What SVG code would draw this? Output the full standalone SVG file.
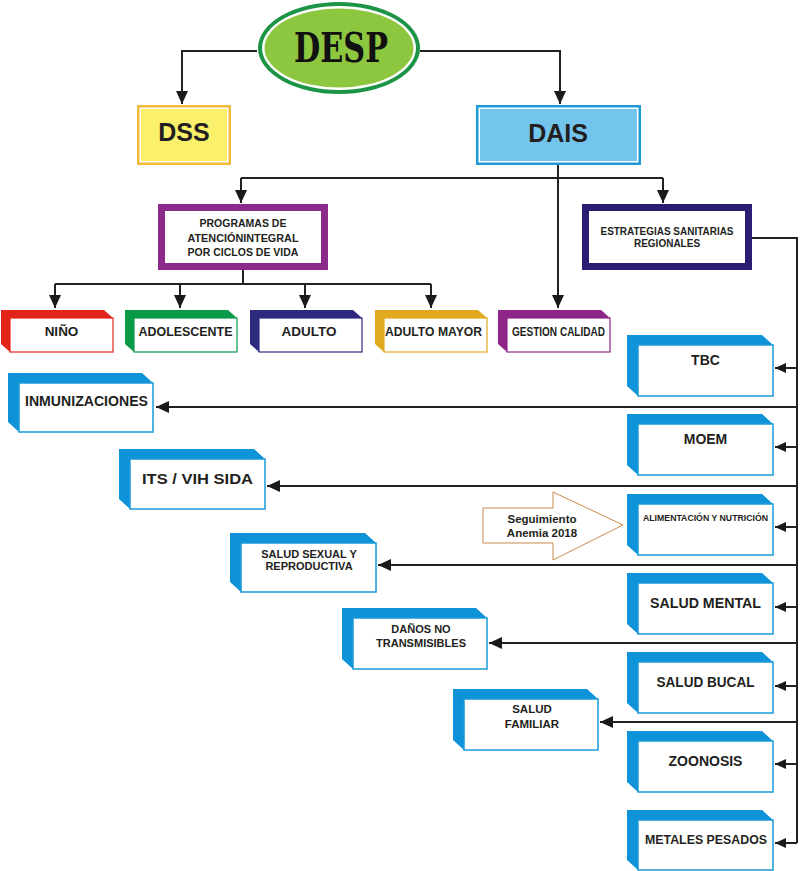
<svg xmlns="http://www.w3.org/2000/svg" width="800" height="871" viewBox="0 0 800 871">
<defs>
<marker id="ah" markerUnits="userSpaceOnUse" markerWidth="13" markerHeight="12" refX="13" refY="6" orient="auto">
<path d="M0,0 L13,6 L0,12 z" fill="#1a1a1a"/>
</marker>
<marker id="as" markerUnits="userSpaceOnUse" markerWidth="11" markerHeight="10" refX="11" refY="5" orient="auto">
<path d="M0,0 L11,5 L0,10 z" fill="#1a1a1a"/>
</marker>
</defs>
<style>
text{font-family:"Liberation Sans",Arial,sans-serif;font-weight:bold;fill:#231f20;text-anchor:middle}
.c{fill:none;stroke:#222;stroke-width:2}
.blue{fill:#0f93d8}
.bf{fill:#fff;stroke:#1a9ad9;stroke-width:1.5}
</style>
<rect width="800" height="871" fill="#fff"/>

<g id="connectors">
<path class="c" d="M257,51 H182 V104" marker-end="url(#ah)"/>
<path class="c" d="M420,51 H560 V104" marker-end="url(#ah)"/>
<path class="c" d="M558,165 V178 M241,178 H663"/>
<path class="c" d="M241,178 V203" marker-end="url(#ah)"/>
<path class="c" d="M663,178 V203" marker-end="url(#ah)"/>
<path class="c" d="M558,178 V308" marker-end="url(#ah)"/>
<path class="c" d="M243,270 V284 M55,284 H431"/>
<path class="c" d="M55,284 V308" marker-end="url(#ah)"/>
<path class="c" d="M180,284 V308" marker-end="url(#ah)"/>
<path class="c" d="M305,284 V308" marker-end="url(#ah)"/>
<path class="c" d="M431,284 V308" marker-end="url(#ah)"/>
<path class="c" d="M752,238 H797 V843"/>
<path class="c" d="M797,368 H775" marker-end="url(#as)"/>
<path class="c" d="M797,447 H775" marker-end="url(#as)"/>
<path class="c" d="M797,527 H775" marker-end="url(#as)"/>
<path class="c" d="M797,607 H775" marker-end="url(#as)"/>
<path class="c" d="M797,686 H775" marker-end="url(#as)"/>
<path class="c" d="M797,764 H775" marker-end="url(#as)"/>
<path class="c" d="M797,843 H775" marker-end="url(#as)"/>
<path class="c" d="M797,407 H156" marker-end="url(#ah)"/>
<path class="c" d="M797,486 H267" marker-end="url(#ah)"/>
<path class="c" d="M797,565 H378" marker-end="url(#ah)"/>
<path class="c" d="M797,643 H489" marker-end="url(#ah)"/>
<path class="c" d="M797,722 H600" marker-end="url(#ah)"/>
</g>

<g id="desp">
<ellipse cx="339" cy="48" rx="81" ry="46" fill="#1b9445"/>
<ellipse cx="339" cy="48" rx="77" ry="42" fill="#fff"/>
<ellipse cx="339" cy="48" rx="74.5" ry="39.5" fill="#8dc63f"/>
<text x="341" y="62" style="font-family:'DejaVu Serif','Liberation Serif',serif;font-size:41px;fill:#111" textLength="94" lengthAdjust="spacingAndGlyphs">DESP</text>
</g>

<g id="dss">
<rect x="137" y="105" width="94" height="60" fill="#f2b93a"/>
<rect x="139.5" y="107.5" width="89" height="55" fill="#fff"/>
<rect x="141" y="109" width="86" height="52" fill="#fbf06c"/>
<text x="184" y="141" style="font-size:25px">DSS</text>
</g>

<g id="dais">
<rect x="476" y="105" width="165" height="60" fill="#1d9bd7"/>
<rect x="478.5" y="107.5" width="160" height="55" fill="#fff"/>
<rect x="480" y="109" width="157" height="52" fill="#74c5ee"/>
<text x="558" y="142" style="font-size:25px">DAIS</text>
</g>

<g id="programas">
<rect x="161.5" y="207.5" width="163" height="59" fill="#fff" stroke="#8c2a89" stroke-width="7"/>
<text x="243" y="227" style="font-size:10.5px">PROGRAMAS DE</text>
<text x="243" y="242" style="font-size:10.5px" textLength="111" lengthAdjust="spacingAndGlyphs">ATENCIÓNINTEGRAL</text>
<text x="243" y="256" style="font-size:10.5px">POR CICLOS DE VIDA</text>
</g>

<g id="estrategias">
<rect x="585.5" y="207.5" width="163" height="59" fill="#fff" stroke="#2c1c74" stroke-width="7"/>
<text x="667" y="235" style="font-size:10px" textLength="133" lengthAdjust="spacingAndGlyphs">ESTRATEGIAS SANITARIAS</text>
<text x="667" y="247" style="font-size:10px">REGIONALES</text>
</g>

<g id="nino">
<polygon points="1,310 104,310 113,318 10,318 10,352 1,344" fill="#e3241b"/>
<rect x="10" y="318" width="103" height="34" fill="#fff" stroke="#e3241b" stroke-width="1.2"/>
<text x="61.5" y="336" style="font-size:13.5px">NIÑO</text>
</g>
<g id="adolescente">
<polygon points="125,310 228,310 237,318 134,318 134,352 125,344" fill="#0b9a4a"/>
<rect x="134" y="318" width="103" height="34" fill="#fff" stroke="#0b9a4a" stroke-width="1.2"/>
<text x="185.5" y="336" style="font-size:12.5px" textLength="94" lengthAdjust="spacingAndGlyphs">ADOLESCENTE</text>
</g>
<g id="adulto">
<polygon points="250,310 353,310 362,318 259,318 259,352 250,344" fill="#2d2a80"/>
<rect x="259" y="318" width="103" height="34" fill="#fff" stroke="#2d2a80" stroke-width="1.2"/>
<text x="309" y="336" style="font-size:13.5px">ADULTO</text>
</g>
<g id="adulto-mayor">
<polygon points="375,310 478,310 487,318 384,318 384,352 375,344" fill="#e1a91d"/>
<rect x="384" y="318" width="103" height="34" fill="#fff" stroke="#e1a91d" stroke-width="1.2"/>
<text x="433.5" y="336" style="font-size:12.5px" textLength="97" lengthAdjust="spacingAndGlyphs">ADULTO MAYOR</text>
</g>
<g id="gestion-calidad">
<polygon points="498,310 601,310 610,318 507,318 507,352 498,344" fill="#8e2687"/>
<rect x="507" y="318" width="103" height="34" fill="#fff" stroke="#8e2687" stroke-width="1.2"/>
<text x="558.5" y="336" style="font-size:12px" textLength="93" lengthAdjust="spacingAndGlyphs">GESTION CALIDAD</text>
</g>

<g id="tbc">
<polygon class="blue" points="627,335 762,335 773,345 638,345 638,396 627,386"/>
<rect class="bf" x="638" y="345" width="135" height="51"/>
<text x="705.5" y="365" style="font-size:14px">TBC</text>
</g>
<g id="moem">
<polygon class="blue" points="627,414 762,414 773,424 638,424 638,475 627,465"/>
<rect class="bf" x="638" y="424" width="135" height="51"/>
<text x="705.5" y="444" style="font-size:14px">MOEM</text>
</g>
<g id="alimentacion">
<polygon class="blue" points="627,494 762,494 773,504 638,504 638,555 627,545"/>
<rect class="bf" x="638" y="504" width="135" height="51"/>
<text x="705.5" y="521" style="font-size:8.5px" textLength="125" lengthAdjust="spacingAndGlyphs">ALIMENTACIÓN Y NUTRICIÓN</text>
</g>
<g id="salud-mental">
<polygon class="blue" points="627,573 762,573 773,583 638,583 638,634 627,624"/>
<rect class="bf" x="638" y="583" width="135" height="51"/>
<text x="705.5" y="608" style="font-size:14px" textLength="111" lengthAdjust="spacingAndGlyphs">SALUD MENTAL</text>
</g>
<g id="salud-bucal">
<polygon class="blue" points="627,652 762,652 773,662 638,662 638,713 627,703"/>
<rect class="bf" x="638" y="662" width="135" height="51"/>
<text x="705.5" y="687" style="font-size:14px" textLength="98" lengthAdjust="spacingAndGlyphs">SALUD BUCAL</text>
</g>
<g id="zoonosis">
<polygon class="blue" points="627,731 762,731 773,741 638,741 638,792 627,782"/>
<rect class="bf" x="638" y="741" width="135" height="51"/>
<text x="705.5" y="766" style="font-size:14px">ZOONOSIS</text>
</g>
<g id="metales-pesados">
<polygon class="blue" points="627,810 762,810 773,820 638,820 638,870 627,860"/>
<rect class="bf" x="638" y="820" width="135" height="50"/>
<text x="706" y="844" style="font-size:13.5px" textLength="122" lengthAdjust="spacingAndGlyphs">METALES PESADOS</text>
</g>

<g id="inmunizaciones">
<polygon class="blue" points="8,373 142,373 153,383 19,383 19,432 8,422"/>
<rect class="bf" x="19" y="383" width="134" height="49"/>
<text x="86.5" y="406" style="font-size:14px" textLength="123" lengthAdjust="spacingAndGlyphs">INMUNIZACIONES</text>
</g>
<g id="its-vih">
<polygon class="blue" points="119,449 254,449 265,459 130,459 130,509 119,499"/>
<rect class="bf" x="130" y="459" width="135" height="50"/>
<text x="197.5" y="484" style="font-size:15px" textLength="111" lengthAdjust="spacingAndGlyphs">ITS / VIH SIDA</text>
</g>
<g id="salud-sexual">
<polygon class="blue" points="230,533 365,533 376,543 241,543 241,592 230,582"/>
<rect class="bf" x="241" y="543" width="135" height="49"/>
<text x="309" y="558" style="font-size:11px">SALUD SEXUAL Y</text>
<text x="309" y="570" style="font-size:11px">REPRODUCTIVA</text>
</g>
<g id="danos">
<polygon class="blue" points="342,608 476,608 487,618 353,618 353,669 342,659"/>
<rect class="bf" x="353" y="618" width="134" height="51"/>
<text x="421" y="633" style="font-size:11px">DAÑOS NO</text>
<text x="421" y="647" style="font-size:11px" textLength="90" lengthAdjust="spacingAndGlyphs">TRANSMISIBLES</text>
</g>
<g id="salud-familiar">
<polygon class="blue" points="453,689 587,689 598,699 464,699 464,750 453,740"/>
<rect class="bf" x="464" y="699" width="134" height="51"/>
<text x="532" y="713" style="font-size:11.5px">SALUD</text>
<text x="532" y="728" style="font-size:11.5px">FAMILIAR</text>
</g>

<g id="seguimiento">
<polygon points="483,508 553,508 553,492 623,525 553,560 553,543 483,543" fill="#fff" stroke="#c98a4b" stroke-width="1"/>
<text x="542" y="523" style="font-size:11.5px">Seguimiento</text>
<text x="542" y="537" style="font-size:11.5px">Anemia 2018</text>
</g>
</svg>
